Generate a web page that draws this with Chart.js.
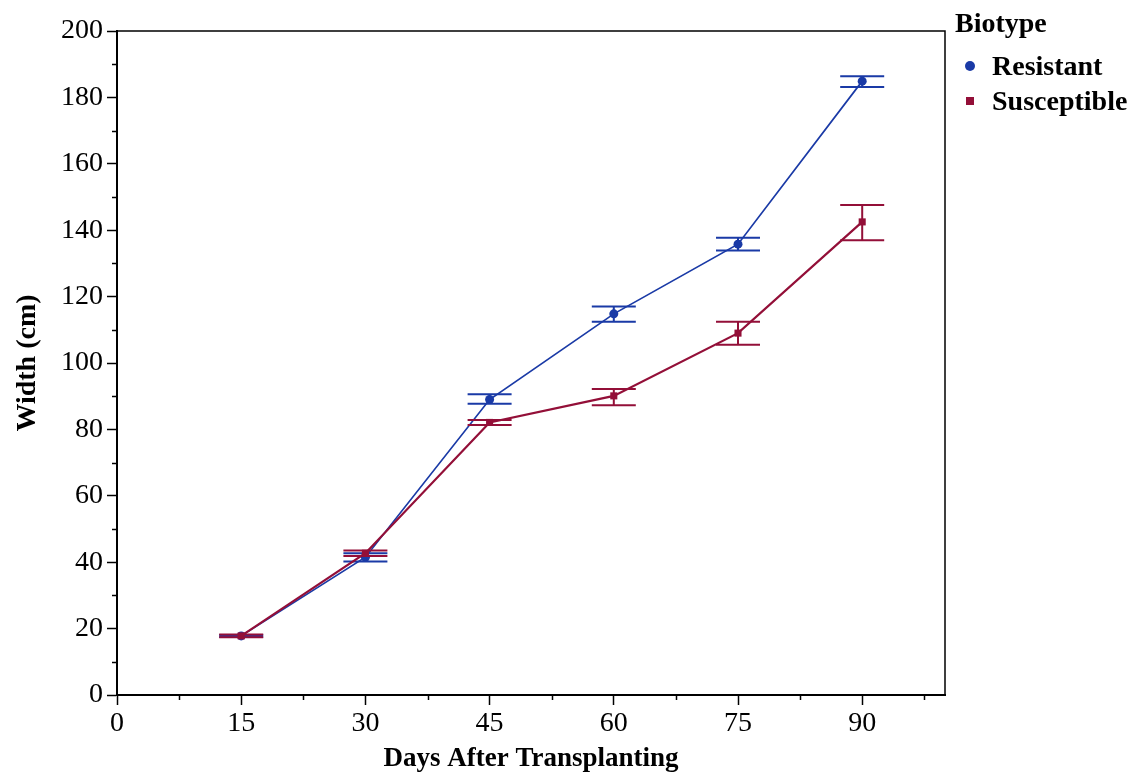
<!DOCTYPE html>
<html>
<head>
<meta charset="utf-8">
<script src="https://cdn.jsdelivr.net/npm/chart.js@4/dist/chart.umd.min.js"></script>
<style>
  html, body { margin: 0; padding: 0; background: #fff; }
  #wrap { width: 1135px; height: 776px; position: relative; }
</style>
</head>
<body>
<div id="wrap"><canvas id="c" width="1135" height="776"></canvas></div>
<script>
// ---- data ----
const days = [15, 30, 45, 60, 75, 90];
const resistant = [17.8, 41.5, 89.0, 114.8, 135.8, 184.9];
const resistantLow = [17.5, 40.2, 87.7, 112.4, 133.9, 183.1];
const resistantHigh = [18.1, 42.7, 90.6, 117.0, 137.7, 186.4];
const susceptible = [17.8, 42.7, 82.1, 90.1, 109.0, 142.5];
const susceptibleLow = [17.4, 41.9, 81.3, 87.3, 105.5, 137.0];
const susceptibleHigh = [18.2, 43.5, 82.8, 92.2, 112.4, 147.6];
const xTicks = [0, 7.5, 15, 22.5, 30, 37.5, 45, 52.5, 60, 67.5, 75, 82.5, 90, 97.5];
const yTicks = [0, 10, 20, 30, 40, 50, 60, 70, 80, 90, 100, 110, 120, 130, 140, 150, 160, 170, 180, 190, 200];
const seriesNames = ['Resistant', 'Susceptible'];
const legendTitle = 'Biotype';
const xTitle = 'Days After Transplanting';
const yTitle = 'Width (cm)';

const BLUE = '#1a3aa6';
const RED = '#930f38';
const SERIF = '"Liberation Serif", "DejaVu Serif", serif';

const toPts = (ys) => days.map((d, i) => ({ x: d, y: ys[i] }));
const errors = [
  { low: resistantLow, high: resistantHigh },
  { low: susceptibleLow, high: susceptibleHigh }
];

const extras = {
  id: 'extras',
  afterDatasetDraw(chart, args) {
    const ctx = chart.ctx;
    const xs = chart.scales.x, ys = chart.scales.y;
    const ds = chart.data.datasets[args.index];
    const err = errors[args.index];
    ctx.save();
    ctx.strokeStyle = ds.borderColor;
    ctx.lineWidth = 2;
    days.forEach((d, i) => {
      const px = xs.getPixelForValue(d);
      const lo = ys.getPixelForValue(err.low[i]);
      const hi = ys.getPixelForValue(err.high[i]);
      ctx.beginPath();
      ctx.moveTo(px, lo); ctx.lineTo(px, hi);
      ctx.moveTo(px - 22, lo); ctx.lineTo(px + 22, lo);
      ctx.moveTo(px - 22, hi); ctx.lineTo(px + 22, hi);
      ctx.stroke();
    });
    ctx.restore();
  },
  afterDraw(chart) {
    const ctx = chart.ctx;
    const a = chart.chartArea;
    const xs = chart.scales.x, ys = chart.scales.y;
    ctx.save();
    // frame top & right
    ctx.strokeStyle = '#000';
    ctx.lineWidth = 1.5;
    ctx.beginPath();
    ctx.moveTo(a.left, a.top); ctx.lineTo(a.right, a.top); ctx.lineTo(a.right, a.bottom);
    ctx.stroke();
    // minor ticks
    ctx.lineWidth = 1.5;
    ctx.beginPath();
    xTicks.forEach(v => {
      if (v % 15 !== 0) {
        const px = Math.round(xs.getPixelForValue(v)) + 0.5;
        ctx.moveTo(px, a.bottom); ctx.lineTo(px, a.bottom + 5);
      }
    });
    yTicks.forEach(v => {
      if (v % 20 !== 0) {
        const py = Math.round(ys.getPixelForValue(v)) + 0.5;
        ctx.moveTo(a.left, py); ctx.lineTo(a.left - 5, py);
      }
    });
    ctx.stroke();
    // legend
    ctx.fillStyle = '#000';
    ctx.textBaseline = 'middle';
    ctx.textAlign = 'left';
    ctx.font = 'bold 28px ' + SERIF;
    ctx.fillText(legendTitle, 955, 25);
    const rows = [67, 102];
    chart.data.datasets.forEach((ds, i) => {
      const y = rows[i];
      ctx.fillStyle = ds.pointBackgroundColor;
      if (ds.pointStyle === 'circle') {
        ctx.beginPath(); ctx.arc(970, y - 1, 5, 0, Math.PI * 2); ctx.fill();
      } else {
        ctx.fillRect(966, y - 5, 8, 8);
      }
      ctx.fillStyle = '#000';
      ctx.fillText(ds.label, 992, y + 1);
    });
    ctx.restore();
  }
};

new Chart(document.getElementById('c'), {
  type: 'line',
  data: {
    datasets: [
      {
        label: seriesNames[0], data: toPts(resistant),
        borderColor: BLUE, backgroundColor: BLUE, borderWidth: 1.7,
        pointStyle: 'circle', pointRadius: 4.5, pointBackgroundColor: BLUE, pointBorderWidth: 0,
        order: 2, tension: 0
      },
      {
        label: seriesNames[1], data: toPts(susceptible),
        borderColor: RED, backgroundColor: RED, borderWidth: 2.2,
        pointStyle: 'rect', pointRadius: 5, pointBackgroundColor: RED, pointBorderWidth: 0,
        order: 1, tension: 0
      }
    ]
  },
  options: {
    responsive: false,
    animation: false,
    layout: { padding: { left: 0, right: 190, top: 31, bottom: 0 } },
    plugins: { legend: { display: false }, tooltip: { enabled: false } },
    scales: {
      x: {
        type: 'linear', min: 0, max: 100,
        afterBuildTicks: (s) => { s.ticks = xTicks.map(v => ({ value: v })); },
        afterFit: (s) => { s.height = 81; },
        ticks: {
          autoSkip: false, maxRotation: 0, padding: 2, color: '#000',
          font: { family: SERIF, size: 28 },
          callback: (v) => (v % 15 === 0 ? String(v) : '')
        },
        grid: {
          drawOnChartArea: false, drawTicks: true, tickLength: 10, tickWidth: 1.5,
          tickColor: (c) => (c.tick && c.tick.value % 15 === 0 ? '#000' : 'rgba(0,0,0,0)')
        },
        border: { display: true, color: '#000', width: 2 },
        title: {
          display: true, text: xTitle, color: '#000',
          font: { family: SERIF, size: 27, weight: 'bold' },
          padding: { top: 0, bottom: 1 }
        }
      },
      y: {
        type: 'linear', min: 0, max: 200,
        afterBuildTicks: (s) => { s.ticks = yTicks.map(v => ({ value: v })); },
        afterFit: (s) => { s.width = 117; },
        ticks: {
          autoSkip: false, padding: 4, color: '#000',
          font: { family: SERIF, size: 28 },
          callback: (v) => (v % 20 === 0 ? String(v) : '')
        },
        grid: {
          drawOnChartArea: false, drawTicks: true, tickLength: 10, tickWidth: 1.5,
          tickColor: (c) => (c.tick && c.tick.value % 20 === 0 ? '#000' : 'rgba(0,0,0,0)')
        },
        border: { display: true, color: '#000', width: 2 },
        title: {
          display: true, text: yTitle, color: '#000',
          font: { family: SERIF, size: 28, weight: 'bold' },
          padding: { top: 11, bottom: 0 }
        }
      }
    }
  },
  plugins: [extras]
});
</script>
</body>
</html>
